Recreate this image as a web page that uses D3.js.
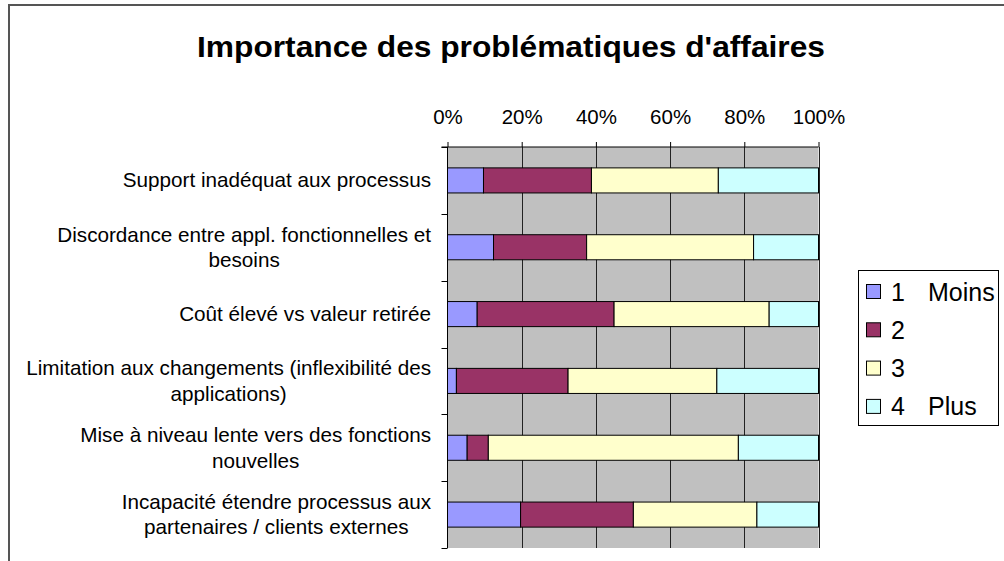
<!DOCTYPE html>
<html>
<head>
<meta charset="utf-8">
<script src="https://cdn.jsdelivr.net/npm/d3@7"></script>
<style>
  body { margin: 0; background: #fff; }
  text { font-family: "Liberation Sans", Arial, sans-serif; fill: #000; }
</style>
</head>
<body>
<div id="wrapper"></div>
<script>
// categories, one entry per bar, each as its wrapped lines
var categories = [
  ["Support inadéquat aux processus"],
  ["Discordance entre appl. fonctionnelles et", "besoins"],
  ["Coût élevé vs valeur retirée"],
  ["Limitation aux changements (inflexibilité des", "applications)"],
  ["Mise à niveau lente vers des fonctions", "nouvelles"],
  ["Incapacité étendre processus aux", "partenaires / clients externes"]
];
var seriesNames = ["1", "2", "3", "4"];
var seriesNotes = ["Moins", "", "", "Plus"];
// percentages for each series, in category order
var s1 = [9.7, 12.4, 8.0, 2.4, 5.3, 19.7];
var s2 = [29.1, 25.1, 36.9, 30.1, 5.7, 30.4];
var s3 = [34.2, 45.0, 41.8, 40.1, 67.4, 33.3];
var s4 = [27.0, 17.5, 13.3, 27.4, 21.6, 16.6];
var tickValues = [0, 0.2, 0.4, 0.6, 0.8, 1];
var colors = ["#9999ff", "#993366", "#ffffcc", "#ccffff"];

var W = 1004, H = 561;
var svg = d3.select('#wrapper').append('svg')
  .attr('width', W).attr('height', H);

// chart frame (cut off at right and bottom in the original)
svg.append('rect')
  .attr('x', 9).attr('y', 5).attr('width', 1010).attr('height', 570)
  .attr('fill', '#fff').attr('stroke', '#555').attr('stroke-width', 2);

svg.append('text')
  .attr('x', 511).attr('y', 57)
  .attr('text-anchor', 'middle')
  .attr('textLength', 628).attr('lengthAdjust', 'spacingAndGlyphs')
  .style('font-size', '29px').style('font-weight', 'bold')
  .text("Importance des problématiques d'affaires");

var plot = {left: 447.5, right: 818.5, top: 147, bottom: 548};

var x = d3.scaleLinear().domain([0, 1]).range([plot.left, plot.right]);
var y = d3.scaleBand().domain(d3.range(categories.length))
  .range([plot.top, plot.bottom]).paddingInner(0.625).paddingOuter(0.3125);

// grey plot area
svg.append('rect')
  .attr('x', plot.left).attr('y', plot.top)
  .attr('width', plot.right - plot.left).attr('height', plot.bottom - plot.top)
  .attr('fill', '#c0c0c0');

// vertical gridlines
svg.selectAll('line.grid').data(tickValues.slice(1)).enter()
  .append('line').attr('class', 'grid')
  .attr('x1', function(d){ return Math.round(x(d)) + 0.5; })
  .attr('x2', function(d){ return Math.round(x(d)) + 0.5; })
  .attr('y1', plot.top).attr('y2', plot.bottom)
  .attr('stroke', '#222').attr('stroke-width', 1);

// stacked bars
var rows = categories.map(function(c, i){
  return {i: i, a: s1[i], b: s2[i], c: s3[i], d: s4[i]};
});
var stack = d3.stack().keys(['a', 'b', 'c', 'd']).offset(d3.stackOffsetExpand);
var layers = stack(rows);

svg.selectAll('g.layer').data(layers).enter()
  .append('g').attr('class', 'layer')
  .attr('fill', function(d, k){ return colors[k]; })
  .selectAll('rect').data(function(d){ return d; }).enter()
  .append('rect')
  .attr('x', function(d){ return x(d[0]); })
  .attr('width', function(d){ return x(d[1]) - x(d[0]); })
  .attr('y', function(d){ return y(d.data.i); })
  .attr('height', y.bandwidth())
  .attr('stroke', '#000').attr('stroke-width', 1);

// top percentage axis
var xAxis = d3.axisTop(x).tickValues(tickValues)
  .tickFormat(d3.format('.0%')).tickSize(5).tickPadding(18);
var gx = svg.append('g').attr('transform', 'translate(0,' + plot.top + ')').call(xAxis);
gx.select('.domain').remove();
gx.append('line').attr('x1', plot.left - 6).attr('x2', plot.right)
  .attr('stroke', '#000');
gx.selectAll('.tick line').attr('stroke', '#000');
gx.selectAll('.tick text')
  .style('font-size', '20.5px')
  .style('font-family', '"Liberation Sans", Arial, sans-serif')
  .attr('fill', '#000');

// left category axis: line and ticks at band boundaries
var step = y.step();
var bounds = d3.range(categories.length + 1).map(function(i){ return plot.top + i * step; });
svg.append('line')
  .attr('x1', plot.left).attr('x2', plot.left)
  .attr('y1', plot.top).attr('y2', plot.bottom).attr('stroke', '#000');
svg.selectAll('line.ytick').data(bounds).enter()
  .append('line').attr('class', 'ytick')
  .attr('x1', plot.left - 6).attr('x2', plot.left)
  .attr('y1', function(d){ return Math.round(d) + 0.5; })
  .attr('y2', function(d){ return Math.round(d) + 0.5; })
  .attr('stroke', '#000');

// category labels, right-aligned block with centred lines
var lineH = 25.5;
var labels = svg.selectAll('g.cat').data(categories).enter()
  .append('g').attr('class', 'cat');
labels.each(function(lines, i){
  var g = d3.select(this);
  var cy = y(i) + y.bandwidth() / 2;
  var t = g.selectAll('text').data(lines).enter().append('text')
    .style('font-size', '20.7px')
    .attr('text-anchor', 'middle')
    .attr('y', function(d, k){ return cy + (k - (lines.length - 1) / 2) * lineH + 7; })
    .text(function(d){ return d; });
  var maxW = 0;
  t.each(function(){ maxW = Math.max(maxW, this.getComputedTextLength()); });
  t.attr('x', 431 - maxW / 2);
});

// legend
var leg = svg.append('g');
leg.append('rect')
  .attr('x', 858.5).attr('y', 270.5).attr('width', 140).attr('height', 155)
  .attr('fill', '#fff').attr('stroke', '#000');
var item = leg.selectAll('g.item').data(seriesNames).enter()
  .append('g').attr('class', 'item')
  .attr('transform', function(d, k){ return 'translate(0,' + (292 + k * 38.3) + ')'; });
item.append('rect')
  .attr('x', 866.5).attr('y', -7.5).attr('width', 14).attr('height', 14)
  .attr('fill', function(d, k){ return colors[k]; })
  .attr('stroke', '#000');
item.append('text')
  .attr('x', 891).attr('y', 8.5)
  .style('font-size', '25px')
  .text(function(d){ return d; });
item.append('text')
  .attr('x', 928).attr('y', 8.5)
  .style('font-size', '25px')
  .text(function(d, k){ return seriesNotes[k]; });
</script>
</body>
</html>
